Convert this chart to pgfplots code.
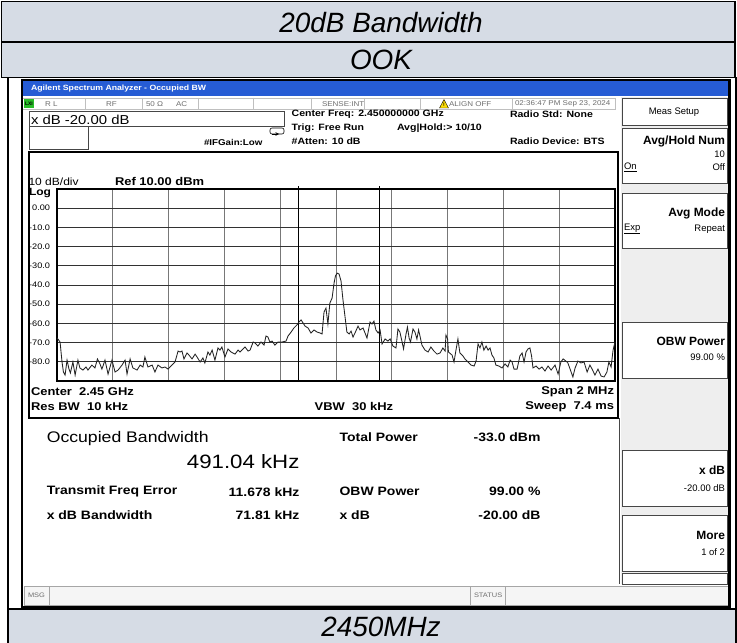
\documentclass[border=0pt]{standalone}
\usepackage{pgfplots}
\pgfplotsset{compat=1.18}
\usepackage{fontspec}
\setmainfont{Liberation Sans}
\newfontfamily\scr[FakeStretch=1.15]{Liberation Sans}
\newcommand{\fs}[1]{\fontsize{#1}{#1}\selectfont}
\definecolor{tbl}{RGB}{214,220,229}
\definecolor{titlebar}{RGB}{38,92,212}
\definecolor{hgrid}{RGB}{50,50,50}
\definecolor{vgrid}{RGB}{120,120,120}
\definecolor{panel}{RGB}{238,238,238}
\definecolor{stat}{RGB}{110,110,110}
\definecolor{keyb}{RGB}{70,70,70}
\definecolor{tracec}{RGB}{35,35,35}
\definecolor{lxi}{RGB}{40,190,40}

\pgfplotstableread{
x y
-1000 -67.5
-989 -69.7
-982 -80.1
-977 -85.3
-971 -86.9
-964 -79.1
-957 -83.8
-952 -85.8
-943 -80.1
-935 -86.9
-925 -79.1
-918 -83.2
-907 -84.3
-896 -82.7
-889 -84.3
-875 -81.7
-864 -83.2
-855 -78.5
-846 -81.1
-839 -83.8
-828 -79.1
-817 -86.4
-803 -79.1
-792 -85.3
-781 -84.3
-767 -81.7
-756 -79.1
-749 -86.4
-738 -78.5
-728 -83.2
-713 -84.3
-702 -81.7
-692 -82.7
-685 -77.5
-674 -82.7
-659 -81.7
-649 -85.3
-638 -81.7
-624 -83.2
-613 -82.7
-602 -83.8
-588 -81.7
-577 -80.1
-566 -74.4
-559 -74.9
-552 -74.4
-545 -78.5
-534 -75.4
-527 -76.5
-516 -78.5
-505 -76
-498 -77.5
-487 -80.1
-477 -78
-470 -80.6
-459 -74.9
-452 -76.5
-444 -73.9
-434 -79.1
-423 -72.8
-416 -73.9
-409 -72.3
-398 -77.5
-387 -73.3
-376 -74.9
-362 -76
-351 -73.9
-344 -74.9
-333 -73.3
-326 -72.3
-315 -74.4
-308 -73.9
-297 -69.7
-290 -70.2
-280 -71.8
-269 -69.7
-258 -71.3
-251 -66.6
-244 -67.1
-237 -69.7
-229 -69.2
-219 -71.3
-208 -69.7
-194 -69.7
-179 -69.2
-172 -66.6
-161 -64.5
-151 -62.4
-140 -60.8
-133 -59.3
-125 -58.2
-118 -59.8
-111 -61.4
-100 -62.4
-90 -65
-79 -63.4
-68 -64.5
-57 -65
-50 -65.5
-43 -54.1
-36 -52
-29 -60.3
-22 -49.4
-14 -46.8
-7 -39
-2 -35.3
4 -33.8
11 -34.3
18 -37.9
25 -47.8
32 -56.1
39 -64.5
47 -65.5
54 -64
61 -67.1
68 -65
79 -61.4
86 -63.4
97 -62.4
104 -65
111 -67.6
122 -59.3
129 -60.3
136 -58.8
143 -63.4
151 -65
158 -63.4
165 -70.7
176 -68.1
186 -69.2
194 -68.1
204 -71.8
215 -72.8
222 -62.9
229 -64.5
237 -69.7
242 -73.3
251 -65.5
256 -61.9
262 -67.6
267 -69.7
276 -62.9
283 -64.5
290 -68.1
296 -63.4
301 -66.6
308 -71.3
319 -73.9
330 -74.9
340 -72.3
351 -74.4
362 -76
373 -75.4
383 -72.8
391 -74.4
394 -66.1
400 -68.1
403 -74.9
416 -76.5
423 -80.1
430 -73.9
437 -68.1
444 -75.4
455 -77
462 -78.5
473 -80.1
484 -81.7
495 -82.2
502 -79.6
509 -70.7
516 -72.8
523 -69.7
530 -73.9
538 -71.8
545 -73.9
552 -72.8
559 -76.5
566 -78
573 -81.7
584 -82.2
595 -83.2
606 -81.1
616 -82.7
624 -79.1
631 -80.1
638 -83.8
649 -83.8
659 -77
667 -75.4
674 -80.1
681 -74.9
688 -73.3
695 -72.8
701 -77
706 -83.2
717 -82.2
728 -83.8
738 -82.7
749 -84.8
760 -82.2
771 -84.3
785 -81.7
796 -86.4
806 -80.1
814 -78.5
824 -79.6
831 -80.6
839 -83.8
849 -87.9
857 -83.2
867 -79.6
878 -80.6
889 -80.1
900 -85.3
910 -81.7
918 -83.8
928 -86.9
939 -83.8
950 -87.4
961 -87.9
971 -85.3
978 -80.1
986 -82.7
993 -73.9
1000 -69.7
}\trace

\begin{document}
\begin{tikzpicture}[every node/.style={inner sep=0pt, outer sep=0pt}]
\begin{scope}[x=1bp,y=-1bp]
\path[use as bounding box] (0,0) rectangle (737,643);
% ---- table ----
\fill[white] (0,0) rectangle (737,643);
\fill[tbl] (1.5,1.5) rectangle (735,77.5);
\fill[tbl] (8,609) rectangle (736,643);
\draw[black,line width=1.2bp] (1.5,1.5) rectangle (735,77.5);
\draw[black,line width=1.2bp] (1.5,42) -- (735,42);
\draw[black,line width=1.2bp] (8,77.5) -- (8,643);
\draw[black,line width=1.2bp] (736,77.5) -- (736,643);
\draw[black,line width=1.2bp] (8,609) -- (736,609);
\node[font=\itshape\fs{28}] at (381,23) {20dB Bandwidth};
\node[font=\itshape\fs{28}] at (381,60) {OOK};
\node[font=\itshape\fs{28}] at (381,627) {2450MHz};
% ---- screenshot ----
\fill[white] (21.5,80) rectangle (729.5,607);
\fill[titlebar] (22,80.5) rectangle (729,96);
\node[anchor=west, text=white, font=\scr\bfseries\fs{7.6}] at (31,88.5) {Agilent Spectrum Analyzer - Occupied BW};
% status row
\draw[black!25, line width=0.6bp] (22,98) rectangle (615,109);
\foreach \sx in {85,142.5,198,253.5,311,364.5,420,512}
  \draw[black!25, line width=0.6bp] (\sx,98) -- (\sx,109);
\fill[lxi] (24,99.5) rectangle (34,108);
\node[font=\bfseries\fs{5}] at (29,104) {LXI};
\node[anchor=west, text=stat, font=\scr\fs{7}] at (45,104) {R L};
\node[anchor=west, text=stat, font=\scr\fs{7}] at (106,104) {RF};
\node[anchor=west, text=stat, font=\scr\fs{7}] at (146,104) {50 Ω};
\node[anchor=west, text=stat, font=\scr\fs{7}] at (176,104) {AC};
\node[anchor=west, text=stat, font=\scr\fs{7}] at (322,104) {SENSE:INT};
\fill[yellow!80!orange, draw=black, line width=0.4bp] (439.5,108) -- (444,99.5) -- (448.5,108) -- cycle;
\node[font=\bfseries\fs{5}] at (444,105) {!};
\node[anchor=west, text=stat, font=\scr\fs{7}] at (449,104) {ALIGN OFF};
\node[anchor=west, text=stat, font=\scr\fs{7}] at (515,104) {02:36:47 PM Sep 23, 2024};
% info area
\draw[keyb, line width=0.8bp] (29.6,111.7) rectangle (284,126.7);
\draw[keyb, line width=0.8bp] (29.6,126.7) rectangle (88,149.3);
\node[anchor=west, font=\scr\fs{13}] at (31,119.5) {x dB -20.00 dB};
\node[anchor=west, font=\scr\bfseries\fs{8.5}] at (204,142) {\#IFGain:Low};
\draw[black, line width=0.6bp, rounded corners=2bp] (270,128) rectangle (284,134);
\draw[black, line width=0.6bp, -stealth] (272,134) -- (279,134);
\node[anchor=west, font=\scr\bfseries\fs{9.2}] at (291.7,114.3) {Center Freq: 2.450000000 GHz};
\node[anchor=west, font=\scr\bfseries\fs{9.2}] at (291.7,127.7) {Trig: Free Run};
\node[anchor=west, font=\scr\bfseries\fs{9.2}] at (397,127.7) {Avg|Hold:> 10/10};
\node[anchor=west, font=\scr\bfseries\fs{9.2}] at (291.7,141) {\#Atten: 10 dB};
\node[anchor=west, font=\scr\bfseries\fs{9.2}] at (510,114.3) {Radio Std: None};
\node[anchor=west, font=\scr\bfseries\fs{9.2}] at (510,141) {Radio Device: BTS};
% graph panel
\draw[black, line width=2bp] (28.5,152) rectangle (618,418);
\node[anchor=west, font=\scr\fs{10.5}] at (28.5,182) {10 dB/div};
\node[anchor=west, font=\scr\bfseries\fs{11.3}] at (115,181.5) {Ref 10.00 dBm};
\node[anchor=west, font=\scr\bfseries\fs{10.5}] at (29,193.5) {Log};
\node[anchor=west, font=\scr\bfseries\fs{11.3}] at (31,391.7) {Center\ \ 2.45 GHz};
\node[anchor=west, font=\scr\bfseries\fs{11.3}] at (31,406.7) {Res BW\ \ 10 kHz};
\node[anchor=west, font=\scr\bfseries\fs{11.3}] at (314.7,406.7) {VBW\ \ 30 kHz};
\node[anchor=east, font=\scr\bfseries\fs{11.3}] at (614,391.7) {Span 2 MHz};
\node[anchor=east, font=\scr\bfseries\fs{11.3}] at (614,406.7) {Sweep\ \ 7.4 ms};
% measurement panel
\draw[keyb, line width=1bp] (619.5,418) -- (619.5,584);
\node[anchor=west, font=\scr\fs{15.4}] at (46.8,438.3) {Occupied Bandwidth};
\node[anchor=east, font=\scr\fs{19.4}] at (299.4,461.7) {491.04 kHz};
\node[anchor=west, font=\scr\bfseries\fs{12.2}] at (46.8,491.7) {Transmit Freq Error};
\node[anchor=east, font=\scr\bfseries\fs{12.2}] at (299.4,491.7) {11.678 kHz};
\node[anchor=west, font=\scr\bfseries\fs{12.2}] at (46.8,515) {x dB Bandwidth};
\node[anchor=east, font=\scr\bfseries\fs{12.2}] at (299.4,515) {71.81 kHz};
\node[anchor=west, font=\scr\bfseries\fs{12.2}] at (339.6,436.7) {Total Power};
\node[anchor=east, font=\scr\bfseries\fs{12.2}] at (540.5,436.7) {-33.0 dBm};
\node[anchor=west, font=\scr\bfseries\fs{12.2}] at (339.6,491.7) {OBW Power};
\node[anchor=east, font=\scr\bfseries\fs{12.2}] at (540.5,491.7) {99.00 \%};
\node[anchor=west, font=\scr\bfseries\fs{12.2}] at (339.6,515) {x dB};
\node[anchor=east, font=\scr\bfseries\fs{12.2}] at (540.5,515) {-20.00 dB};
% softkeys
\fill[panel] (620.5,97) rectangle (728,584);
\foreach \ya/\yb in {98/125,128/183,193/248,322/378,450/506,515/571,573/584}
  \filldraw[fill=white, draw=keyb, line width=0.9bp] (622,\ya) rectangle (727,\yb);
\node[font=\fs{9.5}] at (674,112) {Meas Setup};
\node[anchor=east, font=\bfseries\fs{12}] at (725,141) {Avg/Hold Num};
\node[anchor=east, font=\fs{9.5}] at (725,154) {10};
\node[anchor=west, font=\fs{9.5}] at (624,167) {\underline{On}};
\node[anchor=east, font=\fs{9.5}] at (725,167) {Off};
\node[anchor=east, font=\bfseries\fs{12}] at (725,213) {Avg Mode};
\node[anchor=west, font=\fs{9.5}] at (624,229) {\underline{Exp}};
\node[anchor=east, font=\fs{9.5}] at (725,229) {Repeat};
\node[anchor=east, font=\bfseries\fs{12}] at (725,341) {OBW Power};
\node[anchor=east, font=\fs{9.5}] at (725,357) {99.00 \%};
\node[anchor=east, font=\bfseries\fs{12}] at (725,470) {x dB};
\node[anchor=east, font=\fs{9.5}] at (725,488) {-20.00 dB};
\node[anchor=east, font=\bfseries\fs{12}] at (725,535) {More};
\node[anchor=east, font=\fs{9.5}] at (725,552) {1 of 2};
% bottom status bar
\fill[panel!60!white] (24,586) rectangle (728,605);
\draw[black!35, line width=0.6bp] (24,586) rectangle (728,605);
\foreach \sx in {49,470,505}
  \draw[black!35, line width=0.6bp] (\sx,586) -- (\sx,605);
\node[anchor=west, text=stat, font=\scr\fs{6.5}] at (28,595.5) {MSG};
\node[anchor=west, text=stat, font=\scr\fs{6.5}] at (474,595.5) {STATUS};
% screenshot outer frame
\draw[black, line width=2.5bp] (22,80) rectangle (729.5,607);
\end{scope}

\begin{axis}[
  at={(57bp,-381bp)}, anchor=south west,
  scale only axis, width=558bp, height=192bp,
  xmin=-1000, xmax=1000, ymin=-90, ymax=10,
  xtick={-800,-600,...,800}, xticklabels={},
  ytick={-80,-70,...,0},
  yticklabels={-80.0,-70.0,-60.0,-50.0,-40.0,-30.0,-20.0,-10.0,0.00},
  major tick length=0pt,
  grid=major,
  x grid style={draw=vgrid, line width=0.8bp},
  y grid style={draw=hgrid, line width=0.8bp},
  axis line style={black, line width=1.5bp},
  yticklabel style={font=\scr\fs{8}, inner sep=0pt, xshift=-7bp},
  /pgf/number format/assume math mode=true,
  clip=false,
]
\addplot[black, line width=0.9bp] coordinates {(-135,-90) (-135,11.5)};
\addplot[black, line width=0.9bp] coordinates {(155,-90) (155,11.5)};
\addplot[tracec, line width=0.85bp] table[x=x, y=y] {\trace};
\end{axis}
\end{tikzpicture}
\end{document}
